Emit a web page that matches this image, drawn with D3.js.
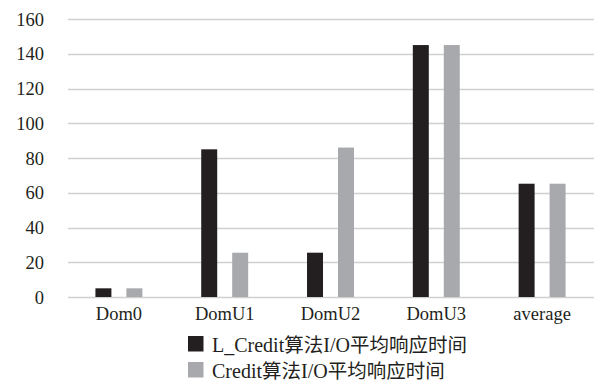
<!DOCTYPE html>
<html><head><meta charset="utf-8">
<script src="https://cdn.jsdelivr.net/npm/d3@7"></script>
<style>html,body{margin:0;padding:0;background:#fff;}svg{display:block;}</style>
</head><body>
<svg id="chart" width="597" height="383"></svg>
<script>
const categories = ["Dom0", "DomU1", "DomU2", "DomU3", "average"];
const seriesNames = ["L_Credit算法I/O平均响应时间", "Credit算法I/O平均响应时间"];
const lCreditValues = [5, 85, 25.5, 145, 65.2];
const creditValues = [5, 25.5, 86, 145, 65.2];
const yTicks = [0, 20, 40, 60, 80, 100, 120, 140, 160];
const colors = ["#231f20", "#a7a9ac"];

(function () {
const svg = d3.select("#chart");
const mLeft = 66, mRight = 595, mTop = 19, mBottom = 297;
const latinFont = "'Liberation Serif', 'Times New Roman', serif";
const cjkFont = "'Noto Sans CJK SC', sans-serif";
const textColor = "#231f20";

const x0 = d3.scaleBand().domain(categories).range([mLeft, mRight]).padding(0);
const x1 = d3.scaleBand().domain([0, 1]).range([0, x0.bandwidth()]).paddingInner(0.484).paddingOuter(0.95);
const y = d3.scaleLinear().domain([0, 160]).range([mBottom, mTop]);

// gridlines
svg.append("g").selectAll("line").data(yTicks).join("line")
  .attr("x1", mLeft + 2).attr("x2", mRight - 1)
  .attr("y1", d => Math.round(y(d)) + 0.5).attr("y2", d => Math.round(y(d)) + 0.5)
  .attr("stroke", "#d0d0d0").attr("stroke-width", 1.3);

// y labels
const yAxis = d3.axisLeft(y).tickValues(yTicks).tickSize(0).tickPadding(0);
const gy = svg.append("g").attr("transform", `translate(${44},0)`).call(yAxis);
gy.select(".domain").remove();
gy.selectAll("text").attr("font-family", latinFont).attr("font-size", "18.5px").attr("fill", textColor).attr("dy", "0.33em");

// bars
const data = categories.map((c, i) => ({ c, vals: [lCreditValues[i], creditValues[i]] }));
const groups = svg.append("g").selectAll("g").data(data).join("g")
  .attr("transform", d => `translate(${x0(d.c)},0)`);
groups.selectAll("rect").data(d => d.vals.map((v, k) => ({ v, k }))).join("rect")
  .attr("x", d => x1(d.k)).attr("width", x1.bandwidth())
  .attr("y", d => y(d.v)).attr("height", d => y(0) - y(d.v))
  .attr("fill", d => colors[d.k]);

// x labels
const xAxis = d3.axisBottom(x0).tickSize(0).tickPadding(0);
const gx = svg.append("g").attr("transform", `translate(0,${320})`).call(xAxis);
gx.select(".domain").remove();
gx.selectAll("text").attr("font-family", latinFont).attr("font-size", "18.5px").attr("fill", textColor).attr("dy", "0").attr("y", 0);

// legend
function richText(sel, str) {
  const parts = str.match(/[\u4e00-\u9fff]+|[^\u4e00-\u9fff]+/g);
  parts.forEach(p => {
    const cjk = /[\u4e00-\u9fff]/.test(p);
    sel.append("tspan").text(p)
      .attr("font-family", cjk ? cjkFont : latinFont)
      .attr("font-size", cjk ? "19.5px" : "20px");
  });
}
const legendYs = [351.5, 377.5];
seriesNames.forEach((name, k) => {
  const g = svg.append("g").attr("transform", `translate(188,${legendYs[k]})`);
  g.append("rect").attr("x", 0).attr("y", -15.5).attr("width", 15.5).attr("height", 15.5).attr("fill", colors[k]);
  const t = g.append("text").attr("x", 24).attr("y", 0).attr("fill", textColor);
  richText(t, name);
});
})();
</script>
</body></html>
